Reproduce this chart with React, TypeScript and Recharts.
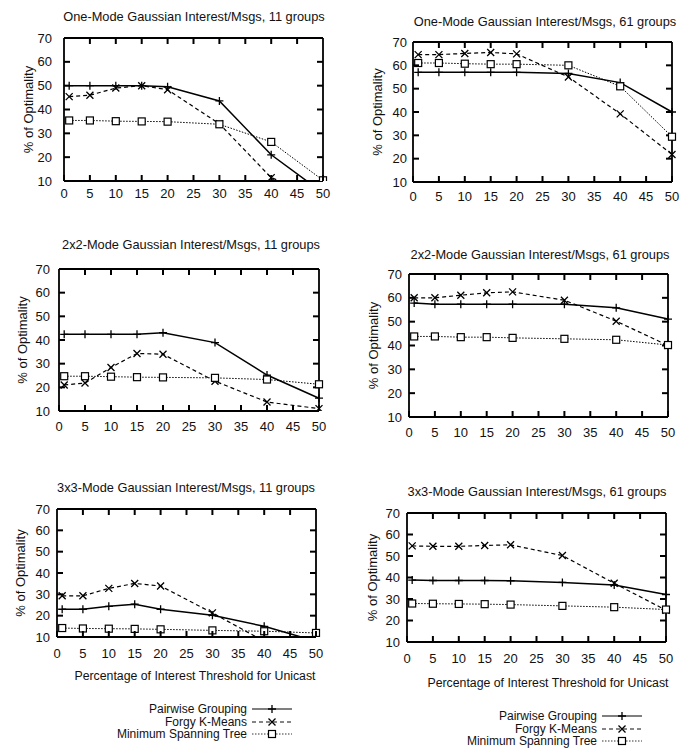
import React from 'react';
import { LineChart, Line, XAxis, YAxis, Legend, ReferenceLine } from 'recharts';

const FONT = '"Liberation Sans", Arial, Helvetica, sans-serif';

// x positions of the measurements (percentage of interest threshold for unicast)
const thresholds = [1, 5, 10, 15, 20, 30, 40, 50];
const xTicks = [0, 5, 10, 15, 20, 25, 30, 35, 40, 45, 50];
const yTicks = [10, 20, 30, 40, 50, 60, 70];
const seriesKeys = ['pw', 'fk', 'mst'];
const seriesNames: Record<string, string> = {
  pw: 'Pairwise Grouping',
  fk: 'Forgy K-Means',
  mst: 'Minimum Spanning Tree',
};
const xAxisTitle = 'Percentage of Interest Threshold for Unicast';
const yAxisTitle = '% of Optimality';

// One-Mode, 11 groups
const p1Pairwise = [50, 50, 50, 50, 49.5, 43.6, 21, 5];
const p1Forgy = [45.4, 46, 49, 50, 48.3, 34, 11.4, 3];
const p1Mst = [35.4, 35.4, 35.1, 35, 34.9, 33.8, 26.4, 10.3];
// One-Mode, 61 groups
const p2Pairwise = [57, 57, 57, 57, 57, 56.5, 52.6, 40];
const p2Forgy = [64.6, 64.6, 65.1, 65.5, 64.9, 55, 39.2, 21.8];
const p2Mst = [61, 61, 60.7, 60.5, 60.5, 60, 51, 29.4];
// 2x2-Mode, 11 groups
const p3Pairwise = [42.4, 42.4, 42.4, 42.4, 43.1, 38.9, 25.2, 15.4];
const p3Forgy = [21, 21.8, 28.4, 34.3, 34, 22.6, 13.8, 11];
const p3Mst = [24.7, 24.7, 24.5, 24.3, 24.2, 24, 23.3, 21.3];
// 2x2-Mode, 61 groups
const p4Pairwise = [57.8, 57.3, 57.3, 57.3, 57.3, 57.3, 55.8, 51.1];
const p4Forgy = [60, 60, 61.1, 62.1, 62.5, 59, 50.2, 40];
const p4Mst = [43.8, 43.8, 43.5, 43.5, 43.2, 42.8, 42.4, 40.2];
// 3x3-Mode, 11 groups
const p5Pairwise = [23, 23, 24.4, 25.4, 23, 20.2, 15, 8];
const p5Forgy = [29.3, 29.3, 32.8, 35.1, 33.9, 21.3, 8, 9];
const p5Mst = [14.2, 14, 13.9, 13.8, 13.6, 13.1, 12.7, 11.9];
// 3x3-Mode, 61 groups
const p6Pairwise = [38.8, 38.6, 38.6, 38.6, 38.5, 37.7, 36.5, 32.1];
const p6Forgy = [54.7, 54.5, 54.5, 54.9, 55.2, 50.2, 37.3, 24.8];
const p6Mst = [27.9, 27.8, 27.7, 27.6, 27.4, 26.8, 26.2, 25.1];

type PanelCfg = {
  title: string;
  pw: number[];
  fk: number[];
  mst: number[];
  L: number; T: number; R: number; B: number;
  titleX: number; titleY: number;
  yLabelX: number; yGap: number; xGap: number;
  xLabel?: { x: number; y: number };
  legend?: { right: number; y: number };
};

const panels: PanelCfg[] = [
  { title: 'One-Mode Gaussian Interest/Msgs, 11 groups', pw: p1Pairwise, fk: p1Forgy, mst: p1Mst,
    L: 64, T: 38, R: 323, B: 181, titleX: 194, titleY: 17, yLabelX: 28, yGap: 12, xGap: 12 },
  { title: 'One-Mode Gaussian Interest/Msgs, 61 groups', pw: p2Pairwise, fk: p2Forgy, mst: p2Mst,
    L: 413, T: 42, R: 672, B: 182, titleX: 545, titleY: 22, yLabelX: 377, yGap: 6, xGap: 14 },
  { title: '2x2-Mode Gaussian Interest/Msgs, 11 groups', pw: p3Pairwise, fk: p3Forgy, mst: p3Mst,
    L: 59, T: 269, R: 319, B: 411, titleX: 191, titleY: 245, yLabelX: 22, yGap: 9, xGap: 15 },
  { title: '2x2-Mode Gaussian Interest/Msgs, 61 groups', pw: p4Pairwise, fk: p4Forgy, mst: p4Mst,
    L: 409, T: 274, R: 668, B: 417, titleX: 540, titleY: 255, yLabelX: 373, yGap: 7, xGap: 15 },
  { title: '3x3-Mode Gaussian Interest/Msgs, 11 groups', pw: p5Pairwise, fk: p5Forgy, mst: p5Mst,
    L: 57, T: 509, R: 316, B: 637, titleX: 186, titleY: 488, yLabelX: 20, yGap: 7, xGap: 16,
    xLabel: { x: 195, y: 676 }, legend: { right: 247, y: 709 } },
  { title: '3x3-Mode Gaussian Interest/Msgs, 61 groups', pw: p6Pairwise, fk: p6Forgy, mst: p6Mst,
    L: 407, T: 513, R: 666, B: 642, titleX: 537, titleY: 492, yLabelX: 372, yGap: 7, xGap: 16,
    xLabel: { x: 548, y: 683 }, legend: { right: 597, y: 716 } },
];

const PlusMark = ({ cx, cy }: { cx: number; cy: number }) => (
  <path d={`M${cx - 4},${cy}H${cx + 4}M${cx},${cy - 4}V${cy + 4}`} stroke="#000" strokeWidth={1.3} fill="none" />
);
const XMark = ({ cx, cy }: { cx: number; cy: number }) => (
  <path d={`M${cx - 3.5},${cy - 3.5}L${cx + 3.5},${cy + 3.5}M${cx - 3.5},${cy + 3.5}L${cx + 3.5},${cy - 3.5}`} stroke="#000" strokeWidth={1.3} fill="none" />
);
const SquareMark = ({ cx, cy }: { cx: number; cy: number }) => (
  <rect x={cx - 3.5} y={cy - 3.5} width={7} height={7} stroke="#000" strokeWidth={1.2} fill="#fff" />
);

const seriesStyle: Record<string, { width: number; dash?: string; Mark: any }> = {
  pw: { width: 1.5, Mark: PlusMark },
  fk: { width: 1.2, dash: '4 3', Mark: XMark },
  mst: { width: 1, dash: '1.5 1.5', Mark: SquareMark },
};

const makeDot = (key: string) => (props: any) => {
  const Mark = seriesStyle[key].Mark;
  if (props.cx == null || props.cy == null) return <g key={`${key}-${props.index}`} />;
  return <Mark key={`${key}-${props.index}`} cx={props.cx} cy={props.cy} />;
};

const LegendContent = (props: any) => {
  const items = (props.payload && props.payload.length
    ? [...props.payload].map((p: any) => p.dataKey as string)
    : seriesKeys
  ).slice().sort((a: string, b: string) => seriesKeys.indexOf(a) - seriesKeys.indexOf(b));
  return (
    <div style={{ fontFamily: FONT, fontSize: 12, color: '#111' }}>
      {items.map((k: string) => {
        const st = seriesStyle[k];
        const Mark = st.Mark;
        return (
          <div key={k} style={{ display: 'flex', alignItems: 'center', height: 12.5 }}>
            <span style={{ width: 170, textAlign: 'right', whiteSpace: 'nowrap', lineHeight: '12.5px' }}>{seriesNames[k]}</span>
            <svg width={42} height={12} style={{ marginLeft: 5, overflow: 'visible' }}>
              <line x1={0} y1={6} x2={40} y2={6} stroke="#000" strokeWidth={st.width * 0.8} strokeDasharray={st.dash} />
              <Mark cx={20} cy={6} />
            </svg>
          </div>
        );
      })}
    </div>
  );
};

const axisStroke = { stroke: '#000', strokeWidth: 1.8 };
const TICK_PX = 6;
const labelStyle = { fontSize: 13, fill: '#111', fontFamily: FONT };

function Panel({ p }: { p: PanelCfg }) {
  const chartLeft = p.L - 60;
  const chartTop = p.T - 10;
  const xh = p.xLabel ? 60 : 30;
  const mb = p.legend ? 70 : 0;
  const width = p.R - p.L + 70;
  const height = p.B - p.T + 10 + xh + mb;
  const data = thresholds.map((t, i) => ({ t, pw: p.pw[i], fk: p.fk[i], mst: p.mst[i] }));
  const bottom = p.B - chartTop;
  const left = p.L - chartLeft;
  // tick length expressed in axis units so the library scales draw it
  const xTickLen = (TICK_PX * 60) / (p.B - p.T);
  const yTickLen = (TICK_PX * 50) / (p.R - p.L);

  const BottomTick = (tp: any) => {
    const c = tp.payload?.coordinate ?? tp.x;
    return (
      <g>
        <line x1={c} x2={c} y1={bottom} y2={bottom - TICK_PX} stroke="#000" strokeWidth={2} />
        <text x={c} y={bottom + p.xGap} textAnchor="middle" dominantBaseline="central" style={labelStyle}>{tp.payload?.value}</text>
      </g>
    );
  };
  const LeftTick = (tp: any) => {
    const c = tp.payload?.coordinate ?? tp.y;
    return (
      <g>
        <line x1={left} x2={left + TICK_PX} y1={c} y2={c} stroke="#000" strokeWidth={2} />
        <text x={left - p.yGap} y={c} textAnchor="end" dominantBaseline="central" style={labelStyle}>{tp.payload?.value}</text>
      </g>
    );
  };

  const yLabel = () => {
    const x = p.yLabelX - chartLeft;
    const y = (p.T + p.B) / 2 - chartTop;
    return (
      <text x={x} y={y} transform={`rotate(-90 ${x} ${y})`} textAnchor="middle" dominantBaseline="central"
        style={{ fontSize: 13, fontFamily: FONT, fill: '#111' }}>{yAxisTitle}</text>
    );
  };
  const xLabel = () => {
    if (!p.xLabel) return null;
    const x = p.xLabel.x - chartLeft;
    const y = p.xLabel.y - chartTop;
    return (
      <text x={x} y={y} textAnchor="middle" dominantBaseline="central"
        style={{ fontSize: 12.3, fontFamily: FONT, fill: '#111' }}>{xAxisTitle}</text>
    );
  };
  const tickSegs: { a: { x: number; y: number }; b: { x: number; y: number }; k: string }[] = [];
  xTicks.forEach((t) => {
    if (t === 0 || t === 50) return;
    tickSegs.push({ k: `xt${t}`, a: { x: t, y: 70 }, b: { x: t, y: 70 - xTickLen } });
  });
  yTicks.forEach((t) => {
    if (t === 10 || t === 70) return;
    tickSegs.push({ k: `yr${t}`, a: { x: 50, y: t }, b: { x: 50 - yTickLen, y: t } });
  });
  return (
    <>
      <div style={{ position: 'absolute', left: p.titleX - 200, top: p.titleY - 8, width: 400, textAlign: 'center',
        fontFamily: FONT, fontSize: 12.8, lineHeight: '16px', color: '#111', whiteSpace: 'nowrap' }}>{p.title}</div>
      <div style={{ position: 'absolute', left: chartLeft, top: chartTop }}>
        <LineChart width={width} height={height} data={data} margin={{ top: 10, right: 10, left: 0, bottom: mb }}>
          <XAxis dataKey="t" type="number" domain={[0, 50]} ticks={xTicks} interval={0} height={xh}
            tickLine={false} axisLine={axisStroke} tick={BottomTick}
            label={p.xLabel ? xLabel : undefined} />
          <XAxis xAxisId="top" orientation="top" mirror type="number" domain={[0, 50]} ticks={xTicks} height={20}
            tickLine={false} tick={false} axisLine={axisStroke} />
          <YAxis type="number" domain={[10, 70]} ticks={yTicks} interval={0} width={60} allowDataOverflow
            tickLine={false} axisLine={axisStroke} tick={LeftTick} label={yLabel} />
          <YAxis yAxisId="right" orientation="right" mirror type="number" domain={[10, 70]} ticks={yTicks} width={20}
            tickLine={false} tick={false} axisLine={axisStroke} />
          {tickSegs.map((s) => (
            <ReferenceLine key={s.k} segment={[s.a, s.b]} stroke="#000" strokeWidth={2} ifOverflow="visible" />
          ))}
          {seriesKeys.map((k) => (
            <Line key={k} dataKey={k} name={seriesNames[k]} type="linear" stroke="#000"
              strokeWidth={seriesStyle[k].width} strokeDasharray={seriesStyle[k].dash}
              dot={makeDot(k)} activeDot={false} isAnimationActive={false} />
          ))}
          {p.legend && (
            <Legend layout="vertical" align="center" verticalAlign="middle" content={LegendContent}
              wrapperStyle={{ position: 'absolute', left: p.legend.right - 170 - chartLeft, top: p.legend.y - 6 - chartTop, width: 220 }} />
          )}
        </LineChart>
      </div>
    </>
  );
}

export default function App() {
  return (
    <div style={{ position: 'absolute', left: 0, top: 0, width: 689, height: 755, background: '#fff', overflow: 'hidden' }}>
      {panels.map((p, i) => <Panel key={i} p={p} />)}
    </div>
  );
}
